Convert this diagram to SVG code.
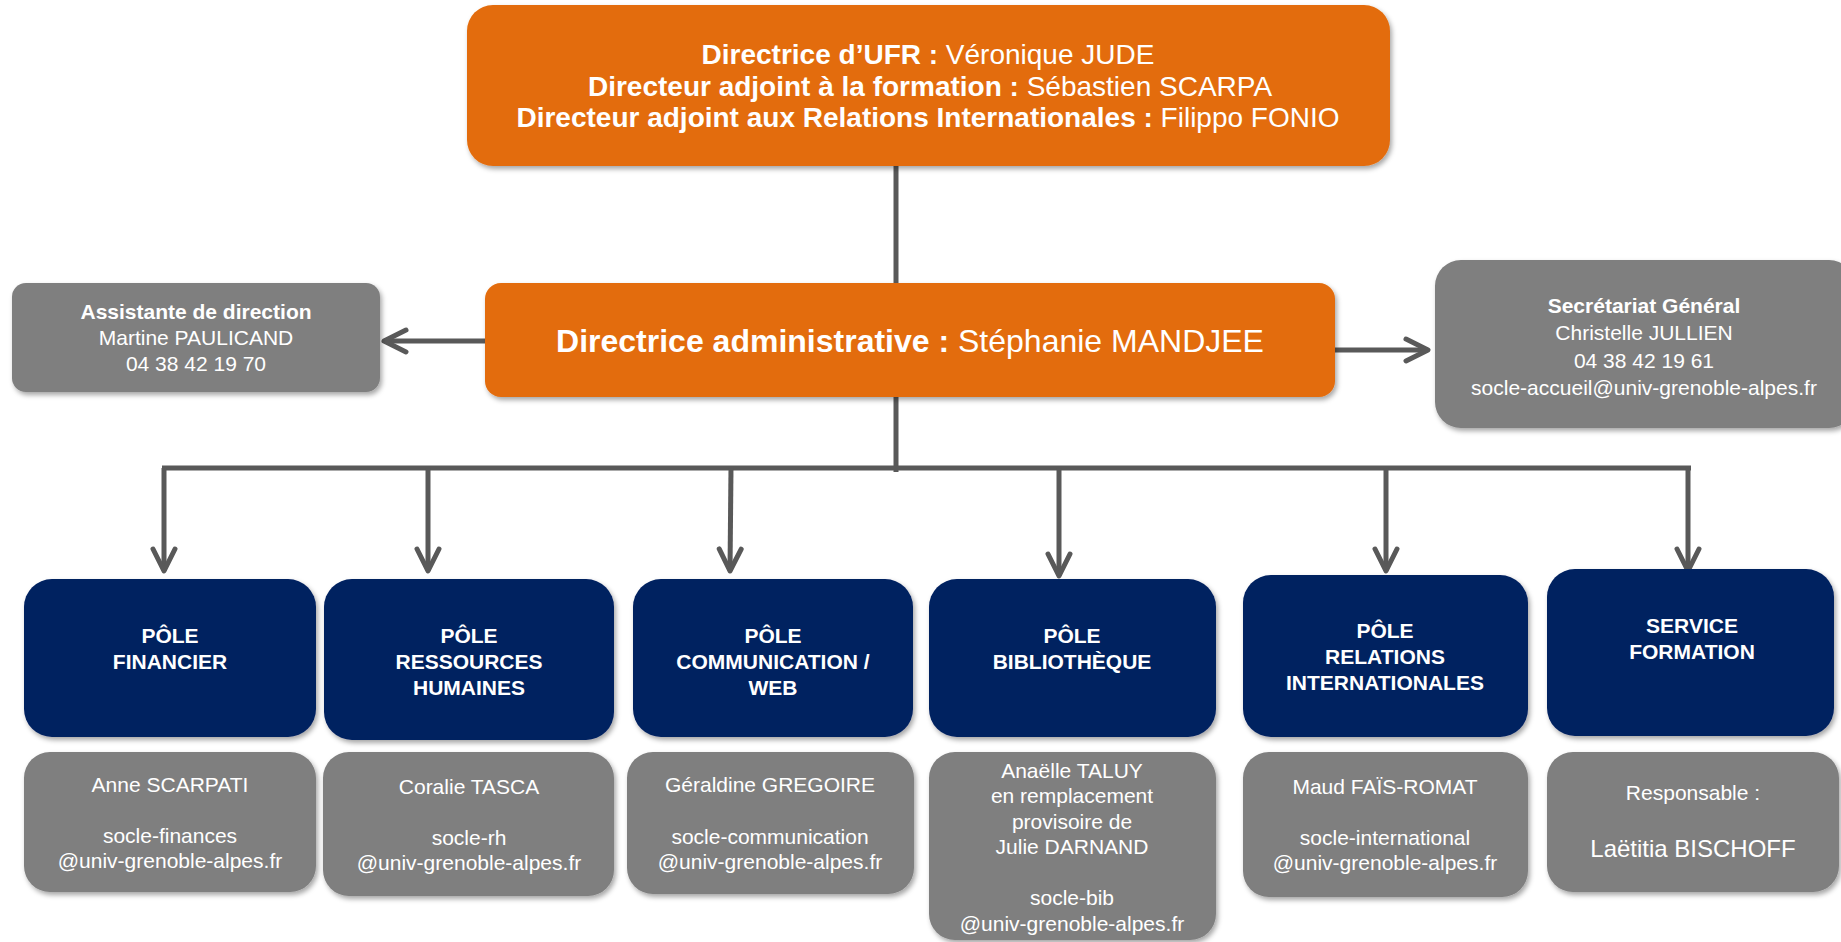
<svg xmlns="http://www.w3.org/2000/svg" width="1841" height="942" viewBox="0 0 1841 942">
<style>
.t{font-family:"Liberation Sans",Arial,sans-serif;fill:#fff;text-anchor:middle}
.b{font-weight:bold}
.orange{fill:#E36C0A;filter:url(#sh)}
.grey{fill:#7F7F7F;filter:url(#sh)}
.navy{fill:#002060;filter:url(#sh)}
.c{fill:none;stroke:#595959;stroke-width:5}
.ca{fill:none;stroke:#595959;stroke-width:5;marker-end:url(#arr)}
.s21{font-size:21px}
.s20{font-size:21px;font-weight:bold}
</style>
<defs>
<filter id="sh" x="-10%" y="-10%" width="120%" height="130%">
<feDropShadow dx="2" dy="3" stdDeviation="2.5" flood-color="#000" flood-opacity="0.35"/>
</filter>
<marker id="arr" markerUnits="userSpaceOnUse" markerWidth="40" markerHeight="40" viewBox="-30 -20 40 40" refX="0" refY="0" orient="auto">
<path d="M-22,-11 L0,0 L-22,11" fill="none" stroke="#595959" stroke-width="5" stroke-linecap="round" stroke-linejoin="round"/>
</marker>
</defs>
<rect width="1841" height="942" fill="#fff"/>

<g id="connectors">
<line class="c" x1="896" y1="166" x2="896" y2="283"/>
<line class="c" x1="896" y1="397" x2="896" y2="472"/>
<line class="c" x1="162" y1="468" x2="1691" y2="468"/>
<line class="ca" x1="485" y1="341" x2="384" y2="341"/>
<line class="ca" x1="1335" y1="350" x2="1428" y2="350"/>
<line class="ca" x1="164" y1="468" x2="164" y2="571"/>
<line class="ca" x1="428" y1="468" x2="428" y2="571"/>
<line class="ca" x1="731" y1="468" x2="730" y2="571"/>
<line class="ca" x1="1059" y1="468" x2="1059" y2="576"/>
<line class="ca" x1="1386" y1="468" x2="1386" y2="571"/>
<line class="ca" x1="1688" y1="468" x2="1688" y2="571"/>
</g>

<g id="direction-ufr">
<rect class="orange" x="467" y="5" width="923" height="161" rx="26"/>
<text class="t" font-size="28" x="928" y="64"><tspan class="b">Directrice d’UFR : </tspan>Véronique JUDE</text>
<text class="t" font-size="28" x="930" y="96"><tspan class="b">Directeur adjoint à la formation : </tspan>Sébastien SCARPA</text>
<text class="t" font-size="28" x="928" y="127"><tspan class="b">Directeur adjoint aux Relations Internationales : </tspan>Filippo FONIO</text>
</g>

<g id="directrice-admin">
<rect class="orange" x="485" y="283" width="850" height="114" rx="16"/>
<text class="t" font-size="32" x="910" y="352"><tspan class="b">Directrice administrative : </tspan>Stéphanie MANDJEE</text>
</g>

<g id="assistante">
<rect class="grey" x="12" y="283" width="368" height="109" rx="14"/>
<text class="t s21 b" x="196" y="319">Assistante de direction</text>
<text class="t s21" x="196" y="345">Martine PAULICAND</text>
<text class="t s21" x="196" y="371">04 38 42 19 70</text>
</g>

<g id="secretariat">
<rect class="grey" x="1435" y="260" width="420" height="168" rx="26"/>
<text class="t s21 b" x="1644" y="313">Secrétariat Général</text>
<text class="t s21" x="1644" y="340">Christelle JULLIEN</text>
<text class="t s21" x="1644" y="368">04 38 42 19 61</text>
<text class="t s21" x="1644" y="395">socle-accueil@univ-grenoble-alpes.fr</text>
</g>

<g id="pole-financier">
<rect class="navy" x="24" y="579" width="292" height="158" rx="28"/>
<text class="t s20" x="170" y="643">PÔLE</text>
<text class="t s20" x="170" y="669">FINANCIER</text>
<rect class="grey" x="24" y="752" width="292" height="140" rx="26"/>
<text class="t s21" x="170" y="792">Anne SCARPATI</text>
<text class="t s21" x="170" y="843">socle-finances</text>
<text class="t s21" x="170" y="868">@univ-grenoble-alpes.fr</text>
</g>

<g id="pole-rh">
<rect class="navy" x="324" y="579" width="290" height="161" rx="28"/>
<text class="t s20" x="469" y="643">PÔLE</text>
<text class="t s20" x="469" y="669">RESSOURCES</text>
<text class="t s20" x="469" y="695">HUMAINES</text>
<rect class="grey" x="323" y="752" width="291" height="144" rx="26"/>
<text class="t s21" x="469" y="794">Coralie TASCA</text>
<text class="t s21" x="469" y="845">socle-rh</text>
<text class="t s21" x="469" y="870">@univ-grenoble-alpes.fr</text>
</g>

<g id="pole-communication">
<rect class="navy" x="633" y="579" width="280" height="158" rx="28"/>
<text class="t s20" x="773" y="643">PÔLE</text>
<text class="t s20" x="773" y="669">COMMUNICATION /</text>
<text class="t s20" x="773" y="695">WEB</text>
<rect class="grey" x="627" y="752" width="287" height="142" rx="26"/>
<text class="t s21" x="770" y="792">Géraldine GREGOIRE</text>
<text class="t s21" x="770" y="844">socle-communication</text>
<text class="t s21" x="770" y="869">@univ-grenoble-alpes.fr</text>
</g>

<g id="pole-bibliotheque">
<rect class="navy" x="929" y="579" width="287" height="158" rx="28"/>
<text class="t s20" x="1072" y="643">PÔLE</text>
<text class="t s20" x="1072" y="669">BIBLIOTHÈQUE</text>
<rect class="grey" x="929" y="752" width="287" height="188" rx="26"/>
<text class="t s21" x="1072" y="778">Anaëlle TALUY</text>
<text class="t s21" x="1072" y="803">en remplacement</text>
<text class="t s21" x="1072" y="829">provisoire de</text>
<text class="t s21" x="1072" y="854">Julie DARNAND</text>
<text class="t s21" x="1072" y="905">socle-bib</text>
<text class="t s21" x="1072" y="931">@univ-grenoble-alpes.fr</text>
</g>

<g id="pole-ri">
<rect class="navy" x="1243" y="575" width="285" height="162" rx="28"/>
<text class="t s20" x="1385" y="638">PÔLE</text>
<text class="t s20" x="1385" y="664">RELATIONS</text>
<text class="t s20" x="1385" y="690">INTERNATIONALES</text>
<rect class="grey" x="1243" y="752" width="285" height="145" rx="26"/>
<text class="t s21" x="1385" y="794">Maud FAÏS-ROMAT</text>
<text class="t s21" x="1385" y="845">socle-international</text>
<text class="t s21" x="1385" y="870">@univ-grenoble-alpes.fr</text>
</g>

<g id="service-formation">
<rect class="navy" x="1547" y="569" width="287" height="167" rx="28"/>
<text class="t s20" x="1692" y="633">SERVICE</text>
<text class="t s20" x="1692" y="659">FORMATION</text>
<rect class="grey" x="1547" y="752" width="292" height="140" rx="26"/>
<text class="t s21" x="1693" y="800">Responsable :</text>
<text class="t" font-size="24" x="1693" y="857">Laëtitia BISCHOFF</text>
</g>
</svg>
